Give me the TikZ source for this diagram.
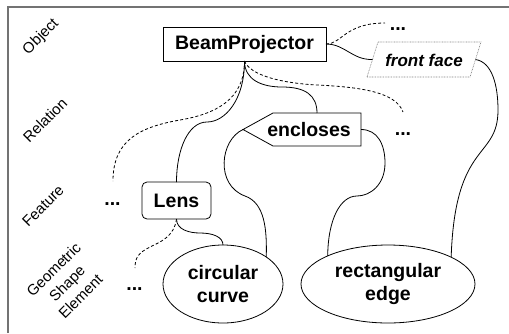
\documentclass[tikz,border=0pt]{standalone}
\usepackage{fontspec}
\setmainfont{Liberation Sans}
\usetikzlibrary{shapes.geometric}
\definecolor{framegray}{gray}{0.45}
\begin{document}
\begin{tikzpicture}[x=1pt,y=-1pt,
  lbl/.style={font=\fontsize{19.5}{23.5}\selectfont\bfseries},
  conn/.style={line width=0.8pt},
  dconn/.style={line width=0.8pt,dash pattern=on 3pt off 2.2pt},
  level/.style={font=\fontsize{15}{19}\selectfont, rotate=45, align=center, inner sep=0pt},
  dots/.style={font=\fontsize{19.5}{23}\selectfont\bfseries, anchor=base, inner sep=0pt},
  box/.style={draw, line width=0.8pt, lbl, inner sep=0pt, outer sep=0pt},
]
\useasboundingbox (0,0) rectangle (509,333);
% frame
\draw[framegray, line width=2pt] (7.5,333) -- (7.5,6.5) -- (509,6.5);

% level labels
\node[level] (lObj) at (41,37) {Object};
\node[level] (lRel) at (45,120) {Relation};
\node[level] (lFeat) at (43,206) {Feature};
\node[level] (lGeo) at (67,283) {Geometric\\Shape\\Element};

% nodes
\node[box, minimum width=163pt, minimum height=34pt] (bp) at (244.5,44) {BeamProjector};
\node[box, rounded corners=5pt, minimum width=69pt, minimum height=37pt] (lens) at (176.5,200.5) {Lens};
\node[box, ellipse, minimum width=120pt, minimum height=78pt, align=center] (cc) at (223,284) {circular\\curve};
\node[box, ellipse, minimum width=174pt, minimum height=78pt, align=center] (re) at (388,284) {rectangular\\edge};

% encloses (signal-like box)
\draw[line width=0.8pt] (243,129.5) -- (273,113) -- (361,113) -- (361,146) -- (273,146) -- cycle;
\node[lbl, inner sep=0pt] (enc) at (309,129.5) {encloses};
\coordinate (encTip) at (243,129.5);
\coordinate (encTop) at (317,113);
\coordinate (encE) at (361,129.5);

% front face (dotted parallelogram)
\draw[gray, line width=0.6pt, dash pattern=on 0.8pt off 0.8pt] (367,77) -- (378,42) -- (481,42) -- (470,77) -- cycle;
\node[font=\fontsize{17}{20}\selectfont\bfseries\itshape, inner sep=0pt] (ff) at (424,60) {front face};
\coordinate (ffW) at (372.5,59.5);
\coordinate (ffE) at (475.5,59.5);

% dots
\node[dots] (d1) at (398,30) {...};
\node[dots] (d2) at (403,135) {...};
\node[dots] (d3) at (112.5,205) {...};
\node[dots] (d4) at (134.5,290) {...};
\coordinate (e1) at (385,23);
\coordinate (e2) at (403,112);
\coordinate (e3) at (113,181);
\coordinate (e4) at (135,268);

% solid connectors
\draw[conn] (bp.south) .. controls (244.5,100) and (225,122) .. (207,122)
  .. controls (188,122) and (176.5,150) .. (lens.north);
\draw[conn] (bp.south) .. controls (244.5,80) and (262,87) .. (282,87)
  .. controls (305,87) and (317,95) .. (encTop);
\draw[conn] (encTip) .. controls (220,140) and (215,185) .. (245,196)
  .. controls (265,203) and (267,230) .. (cc.32);
\draw[conn] (encE) .. controls (378,129.5) and (385,145) .. (385,163)
  .. controls (385,185) and (370,196) .. (357,196)
  .. controls (340,196) and (328,220) .. (re.155);
\draw[conn] (bp.east) .. controls (345,44) and (352,60) .. (ffW);
\draw[conn] (ffE) .. controls (492,62) and (498,85) .. (498,110)
  .. controls (498,160) and (455,140) .. (re.23.5);
\draw[conn] (lens.south) .. controls (176.5,230) and (190,233) .. (200,233)
  .. controls (213,233) and (223,237) .. (cc.north);

% dashed connectors
\draw[dconn] (bp.south) .. controls (244.5,100) and (215,114) .. (180,120)
  .. controls (140,127) and (113,140) .. (e3);
\draw[dconn] (bp.south) .. controls (250,75) and (280,83) .. (317,85)
  .. controls (360,87) and (396,92) .. (e2);
\draw[dconn] (bp.east) .. controls (342,44) and (345,23) .. (e1);
\draw[dconn] (lens.south) .. controls (174,237) and (160,242) .. (150,247)
  .. controls (138,253) and (135,258) .. (e4);
\end{tikzpicture}
\end{document}
